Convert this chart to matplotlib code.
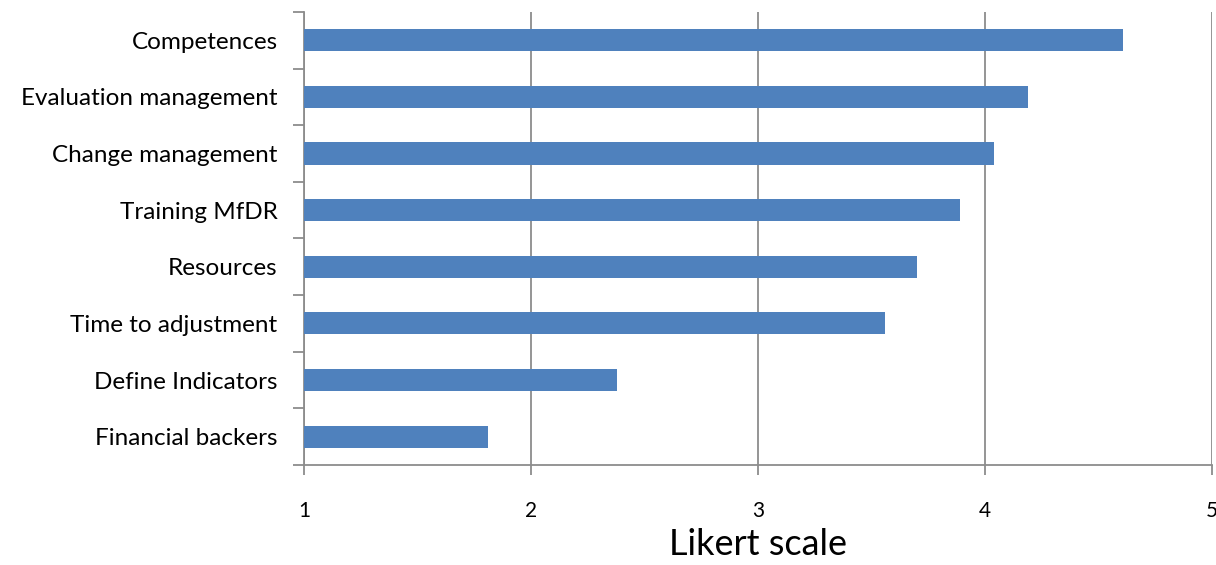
import matplotlib
matplotlib.use("Agg")
import matplotlib.pyplot as plt

# Mean rating per factor (Likert 1-5), listed bottom to top
factors = [
    "Financial backers",
    "Define Indicators",
    "Time to adjustment",
    "Resources",
    "Training MfDR",
    "Change management",
    "Evaluation management",
    "Competences",
]
scores = [1.81, 2.38, 3.56, 3.70, 3.89, 4.04, 4.19, 4.61]
x_ticks = [1, 2, 3, 4, 5]

BAR_COLOR = "#4f81bd"
AXIS_GRAY = "#8c8c8c"

plt.rcParams["font.family"] = ["Lato", "DejaVu Sans"]

fig = plt.figure(figsize=(12.16, 5.65), dpi=100)
ax = fig.add_axes([0.25, 0.177, 0.7467, 0.802])

ypos = list(range(len(factors)))
ax.barh(ypos, [s - 1 for s in scores], left=1, height=0.39, color=BAR_COLOR, zorder=3)

ax.set_xlim(1, 5)
ax.set_ylim(-0.5, len(factors) - 0.5)
ax.set_xticks(x_ticks)
ax.set_xticklabels([str(t) for t in x_ticks], fontsize=15)

# category labels sit between the tick marks, ticks at the boundaries
ax.set_yticks([y + 0.5 for y in ypos[:-1]] + [-0.5, len(factors) - 0.5])
ax.set_yticklabels([])
ax.set_yticks(ypos, minor=True)
ax.set_yticklabels(factors, minor=True, fontsize=17.5)
ax.tick_params(axis="y", which="minor", length=0, pad=19)
ax.tick_params(axis="y", which="major", length=8, width=1.3, color=AXIS_GRAY)
ax.tick_params(axis="x", length=7, width=1.3, color=AXIS_GRAY, pad=19)

ax.grid(axis="x", color=AXIS_GRAY, linewidth=1.3, zorder=0)
for side in ("top", "right"):
    ax.spines[side].set_visible(False)
for side in ("left", "bottom"):
    ax.spines[side].set_color(AXIS_GRAY)
    ax.spines[side].set_linewidth(1.3)

ax.set_xlabel("Likert scale", fontsize=26, labelpad=5)

fig.savefig("out.png", dpi=100, facecolor="white")
